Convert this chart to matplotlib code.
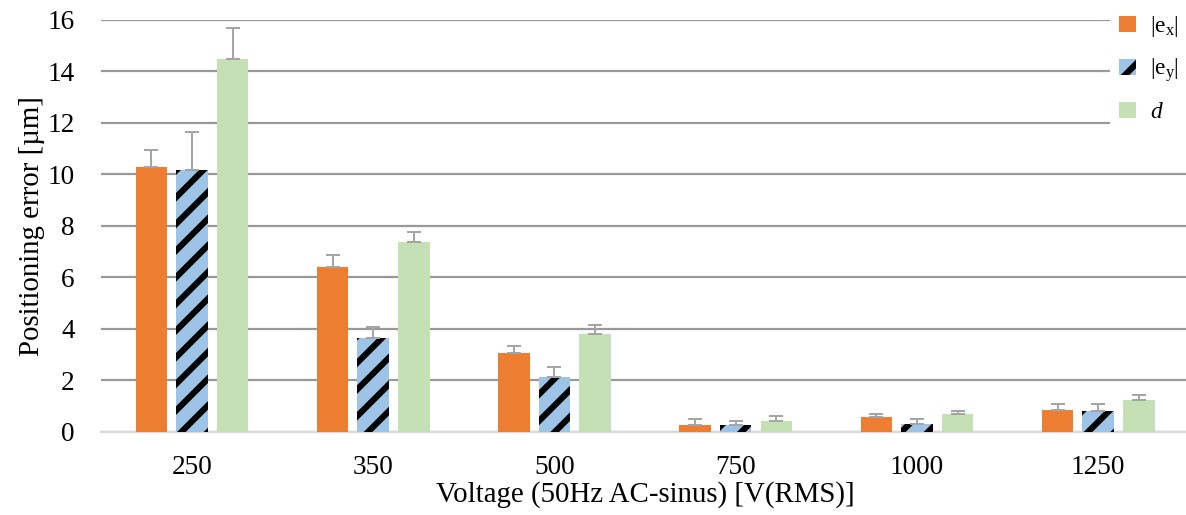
import numpy as np
import matplotlib
matplotlib.use("Agg")
import matplotlib.pyplot as plt

plt.rcParams['font.family'] = ['Liberation Serif', 'DejaVu Serif']
plt.rcParams['mathtext.fontset'] = 'custom'
plt.rcParams['mathtext.rm'] = 'Liberation Serif'
plt.rcParams['mathtext.it'] = 'Liberation Serif:italic'
plt.rcParams['hatch.linewidth'] = 5.5

voltages = ['250', '350', '500', '750', '1000', '1250']
# mean positioning errors [um]
ex = [10.28, 6.40, 3.08, 0.26, 0.58, 0.86]
ey = [10.17, 3.64, 2.15, 0.26, 0.31, 0.83]
d = [14.49, 7.38, 3.80, 0.43, 0.69, 1.24]
# upper error bars
ex_err = [0.66, 0.47, 0.26, 0.24, 0.12, 0.22]
ey_err = [1.48, 0.45, 0.36, 0.18, 0.19, 0.25]
d_err = [1.20, 0.40, 0.35, 0.18, 0.13, 0.21]

fig = plt.figure(figsize=(1186 / 80, 515 / 80), dpi=80)
ax = fig.add_axes([0.0854, 0.1612, 0.917, 0.80])

x = np.arange(len(voltages))
w = 0.174
off = 0.224
ekw = dict(ecolor='#A5A5A5', elinewidth=1.8, capsize=6.5, capthick=1.8)
zero = np.zeros(len(x))

ax.bar(x - off, ex, w, color='#ED7D31', label=r'|e$_\mathregular{x}$|',
       yerr=[zero, ex_err], error_kw=ekw, zorder=3)
ax.bar(x, ey, w, color='#9DC3E6', edgecolor='black', linewidth=0, hatch='/',
       label=r'|e$_\mathregular{y}$|', yerr=[zero, ey_err], error_kw=ekw, zorder=3)
ax.bar(x + off, d, w, color='#C5E0B4', label=r'$d$',
       yerr=[zero, d_err], error_kw=ekw, zorder=3)

ax.set_xlim(-0.5, 5.5)
ax.set_ylim(0, 16)
ax.set_yticks(range(0, 17, 2))
ax.set_xticks(x)
ax.set_xticklabels(voltages)
ax.tick_params(axis='both', length=0, labelsize=24.5)
ax.tick_params(axis='y', pad=24)
ax.tick_params(axis='x', pad=21)
ax.grid(axis='y', color='#999999', linewidth=2, zorder=0)
ax.set_axisbelow(True)
for s in ['top', 'right', 'left']:
    ax.spines[s].set_visible(False)
ax.spines['bottom'].set_color('#D9D9D9')
ax.spines['bottom'].set_linewidth(2)

ax.set_ylabel('Positioning error [µm]', fontsize=26, labelpad=2)
ax.set_xlabel('Voltage (50Hz AC-sinus) [V(RMS)]', fontsize=26, labelpad=1)

leg = fig.legend(loc='upper left', bbox_to_anchor=(0.932, 1.0), fontsize=21,
                 handlelength=0.7, handleheight=0.7, handletextpad=0.6,
                 labelspacing=0.75, frameon=True, borderaxespad=0.2)
leg.get_frame().set_facecolor('white')
leg.get_frame().set_edgecolor('none')
leg.get_frame().set_alpha(1)

fig.savefig('out.png', dpi=80)
